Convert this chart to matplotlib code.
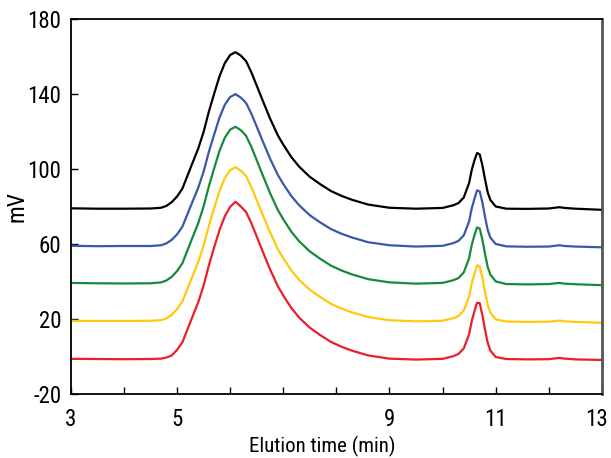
import matplotlib
matplotlib.use("Agg")
import matplotlib.pyplot as plt
import matplotlib.transforms as mtransforms
from matplotlib import font_manager

# elution time (min), shared by all five traces
t = [3.0, 3.5, 4.0, 4.5, 4.7, 4.8, 4.9, 5.0, 5.1, 5.25, 5.4, 5.5, 5.6, 5.7, 5.8,
     5.9, 6.0, 6.1, 6.2, 6.3, 6.4, 6.5, 6.6, 6.75, 6.9, 7.0, 7.15, 7.3, 7.5, 7.7,
     7.9, 8.1, 8.3, 8.6, 9.0, 9.5, 10.0, 10.2, 10.3, 10.4, 10.5, 10.55, 10.6, 10.65,
     10.7, 10.75, 10.8, 10.85, 10.9, 11.0, 11.2, 11.6, 12.0, 12.2, 12.3, 12.5, 13.0]

black = [79.0, 78.8, 78.8, 78.9, 79.3, 80.3, 82.3, 85.3, 89.5, 100.3, 111.0, 119.8, 130.7,
         140.3, 149.5, 156.5, 160.8, 162.3, 160.5, 157.5, 151.5, 144.5, 137.4, 127.0, 117.8,
         113.0, 106.4, 101.2, 95.8, 91.8, 88.2, 85.6, 83.5, 81.0, 79.3, 78.8, 79.2, 80.6, 81.8,
         84.8, 92.5, 99.5, 104.5, 108.5, 107.8, 102.0, 94.5, 87.5, 83.5, 80.0, 78.8, 78.7,
         78.9, 79.6, 79.2, 78.8, 78.2]

blue = [59.0, 58.8, 58.9, 58.9, 59.3, 60.3, 62.2, 65.1, 69.2, 79.7, 90.1, 98.6, 109.2,
        118.5, 127.5, 134.3, 138.4, 139.9, 138.1, 135.2, 129.4, 122.6, 115.7, 105.6, 96.7,
        92.0, 85.6, 80.6, 75.3, 71.4, 67.9, 65.4, 63.4, 60.9, 59.3, 58.6, 59.0, 60.4, 61.6,
        64.6, 72.0, 79.0, 84.0, 88.6, 88.0, 82.2, 74.5, 67.5, 63.4, 60.0, 58.7, 58.5,
        58.6, 59.3, 58.9, 58.6, 58.2]

green = [39.2, 39.0, 38.9, 39.0, 39.5, 40.5, 42.5, 45.5, 49.7, 60.5, 71.2, 80.0, 90.9,
         100.5, 109.7, 116.7, 121.0, 122.5, 120.7, 117.7, 111.7, 104.7, 97.6, 87.2, 78.0,
         73.2, 66.6, 61.4, 56.0, 52.0, 48.4, 45.8, 43.7, 41.2, 39.5, 38.8, 39.2, 40.6, 41.8,
         44.8, 52.4, 59.5, 64.6, 68.8, 68.2, 62.3, 54.7, 47.7, 43.7, 40.0, 38.6, 38.4,
         38.6, 39.2, 38.8, 38.5, 38.0]

yellow = [19.0, 18.9, 18.9, 19.0, 19.3, 20.3, 22.2, 25.2, 29.3, 39.9, 50.5, 59.1, 69.8,
          79.3, 88.3, 95.2, 99.4, 100.9, 99.1, 96.2, 90.3, 83.4, 76.4, 66.2, 57.1,
          52.4, 45.9, 40.8, 35.5, 31.6, 28.0, 25.5, 23.4, 21.0, 19.3, 18.7, 19.0, 20.4, 21.5,
          24.5, 32.0, 39.0, 44.0, 48.6, 48.0, 42.0, 34.5, 27.5, 23.4, 19.8, 18.6, 18.4,
          18.5, 19.1, 18.7, 18.4, 17.9]

red = [-1.3, -1.4, -1.5, -1.4, -1.2, -0.6, 0.5, 3.5, 7.5, 18.3, 29.0, 37.8, 48.7,
       58.3, 67.5, 74.8, 79.8, 82.5, 80.0, 77.0, 71.0, 64.0, 56.9, 46.5, 37.3,
       32.5, 25.9, 20.7, 15.3, 11.3, 7.7, 5.1, 3.0, 0.5, -1.2, -1.7, -1.3, 0.1, 1.3,
       4.3, 11.8, 18.8, 24.0, 28.6, 28.4, 22.0, 14.3, 7.3, 3.1, -0.3, -1.4, -1.6,
       -1.5, -0.8, -1.2, -1.6, -1.9]

series = [(black, "#000000"), (blue, "#3a58a8"), (green, "#168a3c"),
          (yellow, "#ffc90e"), (red, "#e8202a")]

xticks = [3, 4, 5, 6, 7, 8, 9, 10, 11, 12, 13]
xlabels = ["3", "", "5", "", "", "", "9", "", "11", "", "13"]
yticks = [-20, 20, 60, 100, 140, 180]

# narrow font if one is there (reference uses a condensed sans)
fam, stretch = "DejaVu Sans", "normal"
narrow = ["Liberation Sans Narrow", "Roboto Condensed", "Open Sans Condensed"]
fonts = font_manager.fontManager.ttflist
names = {f.name for f in fonts}
for n in narrow:
    if n in names:
        fam = n
        break
else:
    for n in ["DejaVu Sans", "Noto Sans", "Open Sans", "Roboto"]:
        if any(f.name == n and f.stretch in ("condensed", "semi-condensed", 600, 500)
               for f in fonts):
            fam, stretch = n, "condensed"
            break
plt.rcParams['font.family'] = [fam, 'DejaVu Sans']
plt.rcParams['font.stretch'] = stretch
plt.rcParams['axes.unicode_minus'] = False

fig = plt.figure(figsize=(6.11, 4.58), dpi=100)
ax = fig.add_axes([0.116, 0.140, 0.869, 0.8185])

for y, c in series:
    ax.plot(t, y, color=c, lw=1.6, solid_joinstyle='round')

ax.set_xlim(3, 13)
ax.set_ylim(-20, 180)
ax.set_xticks(xticks)
ax.set_xticklabels(xlabels)
ax.set_yticks(yticks)
ax.tick_params(axis='both', direction='in', length=5, width=1, labelsize=16.5)
ax.tick_params(axis='x', pad=10)
ax.tick_params(axis='y', pad=7)

# pull the last x label in a bit so it is not clipped at the edge
last = ax.get_xticklabels()[-1]
last.set_transform(last.get_transform() +
                   mtransforms.ScaledTranslation(-5 / 100, 0, fig.dpi_scale_trans))

for s in ['left', 'bottom', 'top']:
    ax.spines[s].set_linewidth(1.3)
    ax.spines[s].set_color('black')
ax.spines['right'].set_linewidth(2)
ax.spines['right'].set_color('#555555')

ax.set_xlabel('Elution time (min)', fontsize=15)
ax.xaxis.set_label_coords(0.473, -0.112)
ax.set_ylabel('mV', fontsize=17)
ax.yaxis.set_label_coords(-0.08, 0.5)

fig.savefig('out.png', dpi=100)
